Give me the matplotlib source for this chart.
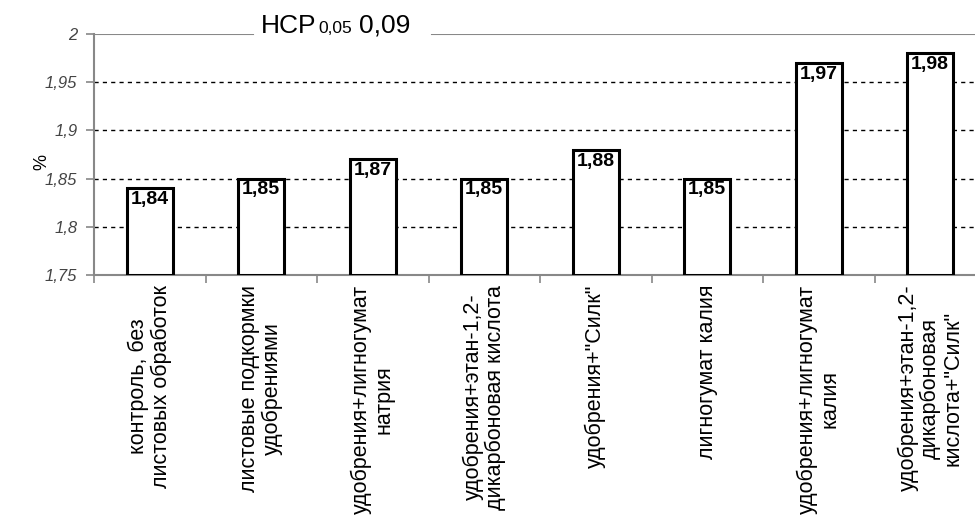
import numpy as np
import matplotlib.pyplot as plt

plt.rcParams['font.family'] = ['Liberation Sans', 'DejaVu Sans']

categories = [
    'контроль, без\nлистовых обработок',
    'листовые подкормки\nудобрениями',
    'удобрения+лигногумат\nнатрия',
    'удобрения+этан-1,2-\nдикарбоновая кислота',
    'удобрения+"Силк"',
    'лигногумат калия',
    'удобрения+лигногумат\nкалия',
    'удобрения+этан-1,2-\nдикарбоновая\nкислота+"Силк"',
]
values = [1.84, 1.85, 1.87, 1.85, 1.88, 1.85, 1.97, 1.98]
value_labels = ['1,84', '1,85', '1,87', '1,85', '1,88', '1,85', '1,97', '1,98']
yticks = [1.75, 1.8, 1.85, 1.9, 1.95, 2.0]
ytick_labels = ['1,75', '1,8', '1,85', '1,9', '1,95', '2']

fig = plt.figure(figsize=(9.75, 5.24), dpi=100)
ax = fig.add_axes([94 / 975, 1 - 275 / 524, 892 / 975, 241 / 524])

x = np.arange(len(values))
ax.bar(x, [v - 1.75 for v in values], bottom=1.75, width=0.41,
       color='white', edgecolor='black', linewidth=2.2, zorder=3)
for xi, v, lab in zip(x, values, value_labels):
    ax.text(xi, v - 0.003, lab, ha='center', va='top', fontsize=14,
            fontweight='bold', zorder=4)

ax.set_xlim(-0.5, len(values) - 0.5)
ax.set_ylim(1.75, 2.0)
ax.set_yticks(yticks)
ax.set_yticklabels(ytick_labels, fontsize=12, style='italic', color='#444444')
for y in yticks[1:-1]:
    ax.axhline(y, color='black', linestyle=(0, (3, 3)), linewidth=1, zorder=1)

# top border with a gap for the title
ax.axhline(2.0, xmin=0, xmax=(253 - 94) / 892, color='#888888', linewidth=1.5)
ax.axhline(2.0, xmin=(432 - 94) / 892, xmax=1, color='#888888', linewidth=1.5)

ax.spines['top'].set_visible(False)
ax.spines['right'].set_visible(False)
ax.spines['left'].set_color('#888888')
ax.spines['bottom'].set_color('#888888')
ax.spines['left'].set_linewidth(1.5)
ax.spines['bottom'].set_linewidth(1.5)

ax.set_xticks(x)
ax.set_xticklabels(categories, rotation=90, fontsize=15.5, ha='center', va='top',
                   linespacing=1.08)
ax.tick_params(axis='x', length=0, pad=7)
ax.set_xticks(np.arange(len(values) + 1) - 0.5, minor=True)
ax.tick_params(axis='x', which='minor', length=6, color='#888888', width=1.2)
ax.tick_params(axis='y', length=6, color='#888888', width=1.2, pad=6)

ax.set_ylabel('%', fontsize=13)
ax.yaxis.set_label_coords((50 - 94) / 892, 0.47)

# title: НСР with small 0,05 then 0,09
base_y = 1 - 33 / 524
t1 = fig.text(261 / 975, base_y, 'НСР', fontsize=19, va='baseline')
fig.canvas.draw()
bb = t1.get_window_extent()
t2 = fig.text(bb.x1 / 975 + 0.002, base_y, '0,05', fontsize=12.5, va='baseline')
fig.canvas.draw()
bb2 = t2.get_window_extent()
fig.text(bb2.x1 / 975 + 0.007, base_y, '0,09', fontsize=19, va='baseline')

fig.savefig('out.png', dpi=100)
